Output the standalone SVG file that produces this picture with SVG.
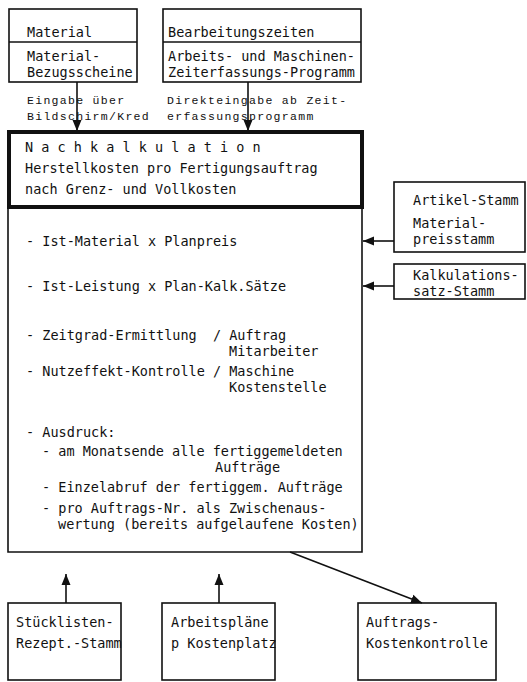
<svg xmlns="http://www.w3.org/2000/svg" width="527" height="682" viewBox="0 0 527 682">
<style>
.box{fill:none;stroke:#111;stroke-width:1.6}
.thick{fill:none;stroke:#111;stroke-width:4}
.t{font-family:"DejaVu Sans Mono","Liberation Mono",monospace;font-size:13.5px;fill:#111;white-space:pre}
.s{font-size:13px}
.lab{font-family:"Liberation Mono","DejaVu Sans Mono",monospace;font-size:11.5px;letter-spacing:1.3px;fill:#111;white-space:pre}
.con{fill:none;stroke:#111;stroke-width:1.6}
</style>
<defs>
<marker id="ah" markerUnits="userSpaceOnUse" markerWidth="12" markerHeight="12" viewBox="0 0 12 12" refX="11" refY="6" orient="auto">
<path d="M0,1.5 L11,6 L0,10.5 Z" fill="#111"/>
</marker>
</defs>
<rect width="527" height="682" fill="#fff"/>

<g id="connectors">
<line class="con" x1="77" y1="82" x2="77" y2="131" marker-end="url(#ah)"/>
<line class="con" x1="248" y1="82" x2="248" y2="131" marker-end="url(#ah)"/>
<line class="con" x1="394" y1="241" x2="363" y2="241" marker-end="url(#ah)"/>
<line class="con" x1="394" y1="286" x2="363" y2="286" marker-end="url(#ah)"/>
<line class="con" x1="290" y1="552" x2="422" y2="603" marker-end="url(#ah)"/>
<line class="con" x1="66" y1="603" x2="66" y2="574" marker-end="url(#ah)"/>
<line class="con" x1="219" y1="603" x2="219" y2="574" marker-end="url(#ah)"/>
<text class="lab" x="27" y="104">Eingabe über</text>
<text class="lab" x="27" y="120">Bildschirm/Kred</text>
<text class="lab" x="167" y="104">Direkteingabe ab Zeit-</text>
<text class="lab" x="167" y="120">erfassungsprogramm</text>
</g>

<g id="material">
<rect class="box" x="9" y="9" width="128" height="73"/>
<line class="box" x1="9" y1="42" x2="137" y2="42"/>
<text class="t" x="27" y="37">Material</text>
<text class="t" x="27" y="61">Material-</text>
<text class="t" x="27" y="77">Bezugsscheine</text>
</g>

<g id="bearbeitungszeiten">
<rect class="box" x="163" y="9" width="198" height="73"/>
<line class="box" x1="163" y1="42" x2="361" y2="42"/>
<text class="t" x="168" y="37">Bearbeitungszeiten</text>
<text class="t" x="168" y="61">Arbeits- und Maschinen-</text>
<text class="t" x="168" y="77">Zeiterfassungs-Programm</text>
</g>

<g id="nachkalkulation">
<rect class="thick" x="9" y="132" width="353" height="75"/>
<path class="box" d="M8,207 V552 H362 V207"/>
<text class="t" x="25" y="152">N a c h k a l k u l a t i o n</text>
<text class="t" x="25" y="173">Herstellkosten pro Fertigungsauftrag</text>
<text class="t" x="25" y="194">nach Grenz- und Vollkosten</text>
<text class="t" x="26" y="246">- Ist-Material x Planpreis</text>
<text class="t" x="26" y="291">- Ist-Leistung x Plan-Kalk.Sätze</text>
<text class="t" x="26" y="340">- Zeitgrad-Ermittlung  / Auftrag</text>
<text class="t" x="229" y="356">Mitarbeiter</text>
<text class="t" x="26" y="376">- Nutzeffekt-Kontrolle / Maschine</text>
<text class="t" x="229" y="392">Kostenstelle</text>
<text class="t" x="26" y="437">- Ausdruck:</text>
<text class="t" x="42" y="456">- am Monatsende alle fertiggemeldeten</text>
<text class="t" x="215" y="472">Aufträge</text>
<text class="t" x="42" y="492">- Einzelabruf der fertiggem. Aufträge</text>
<text class="t" x="42" y="513">- pro Auftrags-Nr. als Zwischenaus-</text>
<text class="t" x="58" y="529">wertung (bereits aufgelaufene Kosten)</text>
</g>

<g id="artikelstamm">
<rect class="box" x="394" y="182" width="131" height="70"/>
<text class="t" x="413" y="205">Artikel-Stamm</text>
<text class="t" x="413" y="228">Material-</text>
<text class="t" x="413" y="244">preisstamm</text>
</g>

<g id="kalkulationssatz">
<rect class="box" x="394" y="264" width="131" height="35"/>
<text class="t" x="413" y="280">Kalkulations-</text>
<text class="t" x="413" y="296">satz-Stamm</text>
</g>

<g id="stueckliste">
<rect class="box" x="8" y="603" width="113" height="77"/>
<text class="t" x="16" y="627">Stücklisten-</text>
<text class="t" x="16" y="648">Rezept.-Stamm</text>
</g>

<g id="arbeitsplaene">
<rect class="box" x="162" y="603" width="113" height="77"/>
<text class="t" x="171" y="627">Arbeitspläne</text>
<text class="t" x="171" y="648">p Kostenplatz</text>
</g>

<g id="auftragskosten">
<rect class="box" x="358" y="603" width="138" height="77"/>
<text class="t" x="366" y="627">Auftrags-</text>
<text class="t" x="366" y="648">Kostenkontrolle</text>
</g>
</svg>
